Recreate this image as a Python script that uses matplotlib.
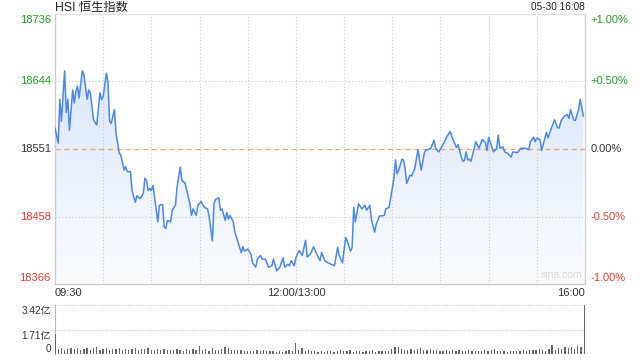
import numpy as np
import matplotlib
matplotlib.use('Agg')
import matplotlib.pyplot as plt

plt.rcParams['font.family'] = ['Liberation Sans', 'Noto Sans CJK SC', 'DejaVu Sans']

# minutes after 09:30 (lunch break removed), index value
minutes = [0, 2, 3, 4, 6, 7, 8, 9, 11, 12, 13, 14, 15, 17, 18, 20, 21, 22, 24, 26,
           28, 29, 30, 32, 33, 34, 35, 37, 38, 40, 41, 43, 44, 45, 47, 48, 50, 51, 53, 55,
           56, 57, 58, 59, 60, 61, 62, 64, 65, 67, 68, 69, 70, 72, 73, 75, 76, 78, 79, 81,
           84, 85, 86, 88, 89, 91, 93, 95, 96, 98, 99, 100, 102, 103, 104, 106, 107, 108, 109, 111,
           112, 114, 116, 117, 118, 120, 122, 123, 125, 126, 128, 129, 131, 133, 135, 136, 138, 140, 142, 143,
           145, 146, 147, 149, 150, 152, 154, 156, 157, 159, 161, 163, 165, 166, 168, 170, 172, 174, 176, 177,
           179, 181, 182, 184, 185, 186, 187, 189, 191, 192, 193, 194, 196, 197, 199, 200, 202, 205, 206, 208,
           210, 211, 212, 213, 214, 216, 217, 218, 219, 221, 222, 224, 226, 228, 230, 231, 232, 234, 236, 237,
           239, 242, 244, 246, 248, 250, 251, 253, 254, 255, 256, 257, 258, 259, 261, 262, 264, 266, 268, 269,
           270, 273, 275, 276, 277, 279, 280, 282, 284, 285, 288, 290, 293, 295, 296, 298, 299, 300, 302, 303,
           306, 307, 308, 311, 313, 314, 315, 317, 319, 320, 321, 323, 324, 326, 327, 329]
prices = [18580, 18559, 18619, 18589, 18658, 18601, 18619, 18577, 18632, 18614, 18630, 18637, 18621, 18658, 18653, 18619, 18632, 18628, 18591, 18584,
          18628, 18619, 18623, 18655, 18642, 18589, 18586, 18605, 18573, 18545, 18543, 18522, 18527, 18520, 18520, 18494, 18478, 18487, 18483, 18490,
          18511, 18508, 18494, 18497, 18494, 18501, 18485, 18451, 18474, 18475, 18444, 18442, 18453, 18451, 18467, 18474, 18499, 18526, 18508, 18504,
          18476, 18460, 18469, 18460, 18474, 18479, 18471, 18469, 18458, 18425, 18476, 18482, 18484, 18467, 18469, 18453, 18464, 18455, 18460, 18451,
          18437, 18423, 18409, 18417, 18411, 18414, 18407, 18395, 18389, 18400, 18405, 18400, 18400, 18389, 18391, 18400, 18384, 18389, 18402, 18389,
          18393, 18391, 18398, 18391, 18402, 18412, 18405, 18426, 18403, 18407, 18417, 18407, 18398, 18409, 18398, 18395, 18393, 18391, 18416, 18405,
          18395, 18430, 18425, 18411, 18416, 18471, 18451, 18476, 18469, 18471, 18474, 18467, 18474, 18455, 18437, 18448, 18459, 18460, 18469, 18471,
          18497, 18511, 18536, 18517, 18522, 18537, 18536, 18524, 18504, 18515, 18514, 18524, 18550, 18522, 18546, 18550, 18550, 18552, 18563, 18552,
          18547, 18559, 18568, 18575, 18563, 18553, 18557, 18540, 18534, 18536, 18547, 18536, 18537, 18534, 18552, 18561, 18552, 18564, 18560, 18549,
          18567, 18547, 18552, 18570, 18552, 18554, 18547, 18545, 18540, 18547, 18546, 18552, 18552, 18550, 18561, 18567, 18561, 18566, 18564, 18549,
          18574, 18566, 18573, 18591, 18580, 18580, 18589, 18596, 18598, 18593, 18605, 18591, 18590, 18605, 18619, 18596]

# turnover per 2 minutes, unit: 亿
vol_minutes = list(range(0, 332, 2))
volumes = [1.38,
           0.35, 0.42, 0.30, 0.38, 0.45, 0.33, 0.40, 0.28, 0.36, 0.44, 0.31, 0.39, 0.47, 0.30, 0.35,
           0.42, 0.29, 0.37, 0.33, 0.45, 0.30, 0.38, 0.27, 0.34, 0.41, 0.29, 0.36, 0.32, 0.39,
           0.30, 0.26, 0.33, 0.28, 0.35, 0.25, 0.31, 0.27, 0.36, 0.29, 0.24, 0.32, 0.28, 0.38, 0.30,
           0.55, 0.26, 0.33, 0.22, 0.40, 0.30, 0.27, 0.35, 0.46, 0.42, 0.31, 0.28, 0.25, 0.30, 0.22,
           0.20, 0.23, 0.18, 0.26, 0.21, 0.30, 0.24, 0.19, 0.22, 0.17, 0.20, 0.16, 0.21, 0.25, 0.19,
           0.75,
           0.28, 0.42, 0.22, 0.25, 0.18, 0.20, 0.16, 0.22, 0.15, 0.18, 0.21, 0.17, 0.24, 0.30, 0.19,
           0.22, 0.27, 0.16, 0.20, 0.18, 0.15, 0.22, 0.19, 0.26, 0.17, 0.21, 0.18, 0.24, 0.20,
           0.38, 0.52, 0.48, 0.35, 0.30, 0.26, 0.33, 0.25, 0.38, 0.42, 0.30, 0.28, 0.36, 0.31, 0.26,
           0.24, 0.22, 0.28, 0.20, 0.25, 0.18, 0.30, 0.22, 0.19, 0.26, 0.21, 0.24, 0.18, 0.22, 0.27,
           0.20, 0.25, 0.32, 0.23, 0.19, 0.21, 0.17, 0.22, 0.20, 0.24, 0.19, 0.26, 0.22, 0.28, 0.25,
           0.30, 0.38, 0.26, 0.22, 0.33, 0.62, 0.30, 0.45, 0.35, 0.52, 0.40, 0.48, 0.38, 0.55, 0.50,
           3.42]

prev_close = 18551
price_ticks = [18736, 18644, 18551, 18458, 18366]
pct_labels = ['+1.00%', '+0.50%', '0.00%', '-0.50%', '-1.00%']
vol_ticks = [3.42, 1.71, 0]
vol_labels = ['3.42亿', '1.71亿', '0']

GREEN = '#1ea01e'
RED = '#ec3b2b'
DARK = '#333333'
LINE = '#4a88ec'
GRID = '#c8c8c8'


def label_color(v):
    if v > prev_close:
        return GREEN
    if v < prev_close:
        return RED
    return DARK


fig = plt.figure(figsize=(6.4, 3.6), dpi=100)
ax = fig.add_axes([55 / 640, 1 - 284 / 360, 530 / 640, 270 / 360])
axv = fig.add_axes([55 / 640, 1 - 354 / 360, 530 / 640, 49 / 360])

ymin, ymax = price_ticks[-1], price_ticks[0]

# gradient fill under the line
x = np.array(minutes)
y = np.array(prices)
poly = ax.fill_between(x, y, ymin, color='none', lw=0)
grad = np.linspace(0, 1, 256).reshape(-1, 1)
cmap = matplotlib.colors.LinearSegmentedColormap.from_list('g', ['#fafcff', '#dbe7fa'])
img = ax.imshow(grad, extent=[0, 330, ymin, 18660], origin='lower', aspect='auto',
                cmap=cmap, zorder=1)
img.set_clip_path(poly.get_paths()[0], transform=ax.transData)
ax.set_ylim(ymin, ymax)
ax.set_xlim(0, 330)

ax.plot(x, y, color=LINE, lw=1.1, zorder=3)

# grid
for t in range(30, 330, 30):
    ax.axvline(t, color=GRID, lw=0.8, ls=(0, (1, 2)), zorder=2)
for v in [18644, 18458]:
    ax.axhline(v, color=GRID, lw=0.8, ls=(0, (1, 2)), zorder=2)
ax.axhline(prev_close, color='#f0a070', lw=0.9, ls=(0, (4, 3)), zorder=2)

for s in ['left', 'bottom', 'right', 'top']:
    ax.spines[s].set_color('#cccccc')
    ax.spines[s].set_linewidth(1.0)
ax.spines['top'].set_color('#e2e2e2')
ax.set_xticks([])
ax.set_yticks([])

# price labels
for i, (v, p) in enumerate(zip(price_ticks, pct_labels)):
    va = 'center'
    dy = 0
    if i == 0:
        va, dy = 'top', -1
    elif i == len(price_ticks) - 1:
        va, dy = 'bottom', 1
    c = label_color(v)
    ax.annotate(str(v), (0, v), xycoords=('axes fraction', 'data'), xytext=(-3, dy),
                textcoords='offset points', ha='right', va=va, fontsize=8, color=c)
    ax.annotate(p, (1, v), xycoords=('axes fraction', 'data'), xytext=(4, dy),
                textcoords='offset points', ha='left', va=va, fontsize=8, color=c)

# time labels
ax.text(0, -0.015, '09:30', transform=ax.transAxes, ha='left', va='top', fontsize=8, color=DARK)
ax.text(150 / 330, -0.015, '12:00/13:00', transform=ax.transAxes, ha='center', va='top',
        fontsize=8, color=DARK)
ax.text(1, -0.015, '16:00', transform=ax.transAxes, ha='right', va='top', fontsize=8, color=DARK)

fig.text(55 / 640, 1 - 8 / 360, 'HSI 恒生指数', ha='left', va='center', fontsize=8.8,
         color='#222222')
fig.text(585 / 640, 1 - 7 / 360, '05-30 16:08', ha='right', va='center', fontsize=7.2,
         color='#222222')
ax.text(0.955, 0.015, 'sina.com', transform=ax.transAxes, ha='center', va='bottom', fontsize=7.5,
        color='#d8d8d8', zorder=4)

# volume panel
axv.bar(vol_minutes, volumes, width=0.8, color='#666666', zorder=3)
axv.set_xlim(0, 330.5)
axv.set_ylim(0, 3.42)
for v in [3.42, 1.71]:
    axv.axhline(v, color=GRID, lw=0.8, ls=(0, (1, 1.5)), zorder=1)
for s in ['top', 'right', 'bottom']:
    axv.spines[s].set_visible(False)
axv.spines['left'].set_color('#bbbbbb')
axv.set_xticks([])
axv.set_yticks([])
for v, lab in zip(vol_ticks, vol_labels):
    va = 'bottom' if v == 0 else 'top'
    axv.annotate(lab, (0, v), xycoords=('axes fraction', 'data'), xytext=(-3, -1 if v else 0),
                 textcoords='offset points', ha='right', va=va, fontsize=7.2, color=DARK)

fig.savefig('out.png', dpi=100)
